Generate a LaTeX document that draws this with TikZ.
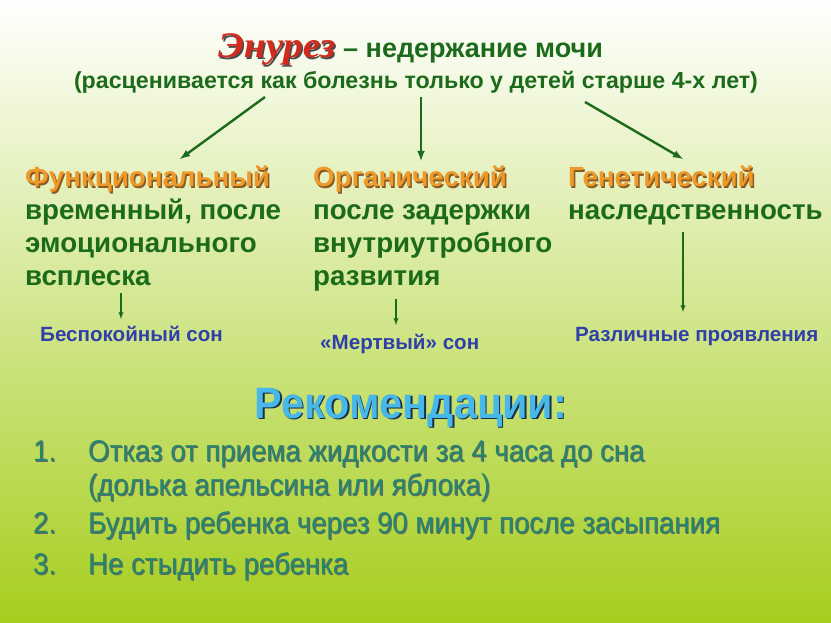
\documentclass[tikz,border=0pt]{standalone}
\usepackage{fontspec}
\setmainfont{Liberation Sans}
\newfontfamily\narrowfont[FakeStretch=0.92]{Liberation Sans}
\newfontfamily\recfont[FakeStretch=0.94]{Liberation Sans}
\newfontfamily\titlefont[FakeStretch=1.1]{Liberation Serif}
\usepackage{xcolor}
\usetikzlibrary{arrows, positioning, calc}

\definecolor{bgtop}{HTML}{FFFFFF}
\definecolor{bgmid}{HTML}{D8EB9C}
\definecolor{bgbot}{HTML}{A6CE1E}
\definecolor{dgreen}{HTML}{1B6B1B}
\definecolor{orng}{HTML}{EE9A2A}
\definecolor{orngsh}{HTML}{8A5A22}
\definecolor{dblue}{HTML}{3040A8}
\definecolor{lblue}{HTML}{48B8E8}
\definecolor{navysh}{HTML}{1A2E4A}
\definecolor{listgreen}{HTML}{24866A}
\definecolor{titlered}{HTML}{D42A1E}

\newcommand\shadowed[4][1.5pt]{\rlap{\kern#1\raisebox{-#1}{\color{#3}#4}}{\color{#2}#4}}

\tikzset{
    txt/.style={anchor=base west, inner sep=0pt, font=\bfseries\fontsize{27.7}{32}\selectfont, text=dgreen},
    head/.style={txt},
    son/.style={anchor=base west, inner sep=0pt, font=\bfseries\fontsize{20.6}{24}\selectfont, text=dblue},
    item/.style={anchor=base west, inner sep=0pt, font=\narrowfont\fontsize{30}{36}\selectfont},
    bigarrow/.style={-latex, line width=2.4pt, draw=dgreen},
    smallarrow/.style={-latex, line width=1.3pt, draw=dgreen}
}
\newcommand\li[1]{\shadowed[1pt]{listgreen}{black!60}{#1}}

\begin{document}
\begin{tikzpicture}[x=1pt, y=-1pt]
    \useasboundingbox (0, 0) rectangle (831, 623);
    \shade[top color=bgtop, middle color=bgmid, bottom color=bgbot] (0, 0) rectangle (831, 623);

    % title
    \node[anchor=base west, inner sep=0pt] (enur) at (218, 58) {\titlefont\bfseries\itshape\fontsize{36}{40}\selectfont\shadowed{titlered}{black!70}{Энурез}};
    \node[txt, font=\bfseries\fontsize{27}{30}\selectfont] (def) at (343, 58) {– недержание мочи};
    \node[anchor=base, inner sep=0pt, font=\bfseries\fontsize{23.2}{26}\selectfont, text=dgreen] (sub) at (416, 89) {(расценивается как болезнь только у детей старше 4-х лет)};

    % three kinds
    \node[head] (func) at (25, 187) {\shadowed{orng}{orngsh}{Функциональный}};
    \node[txt] (func1) at (25, 220) {временный, после};
    \node[txt] (func2) at (25, 252) {эмоционального};
    \node[txt] (func3) at (25, 285) {всплеска};

    \node[head] (org) at (313, 187) {\shadowed{orng}{orngsh}{Органический}};
    \node[txt] (org1) at (313, 220) {после задержки};
    \node[txt] (org2) at (313, 252) {внутриутробного};
    \node[txt] (org3) at (313, 285) {развития};

    \node[head] (gen) at (568, 187) {\shadowed{orng}{orngsh}{Генетический}};
    \node[txt] (gen1) at (568, 220) {наследственность};

    \node[son] (son1) at (40, 341) {Беспокойный сон};
    \node[son] (son2) at (320, 349) {«Мертвый» сон};
    \node[son] (son3) at (575, 341) {Различные проявления};

    % arrows
    \coordinate (a1) at (265, 97);
    \coordinate (a2) at (421, 97);
    \coordinate (a3) at (585, 102);
    \coordinate (b1) at (180, 159);
    \coordinate (b2) at (421, 161);
    \coordinate (b3) at (683, 159);
    \draw
    (a1) edge[bigarrow] (b1)
    (a2) edge[bigarrow] (b2)
    (a3) edge[bigarrow] (b3);
    \draw
    (121, 293) edge[smallarrow] (121, 319)
    (396, 299) edge[smallarrow] (396, 325)
    (683, 232) edge[smallarrow] (683, 312);

    % recommendations
    \node[anchor=base, inner sep=0pt, font=\recfont\bfseries\fontsize{44}{50}\selectfont] (rec) at (411, 418) {\shadowed{lblue}{navysh}{Рекомендации:}};
    \node[item] (n1) at (33, 461) {\li{1.}};
    \node[item] (i1) at (88, 461) {\li{Отказ от приема жидкости за 4 часа до сна}};
    \node[item] (i1b) at (88, 495) {\li{(долька апельсина или яблока)}};
    \node[item] (n2) at (33, 533) {\li{2.}};
    \node[item] (i2) at (88, 533) {\li{Будить ребенка через 90 минут после засыпания}};
    \node[item] (n3) at (33, 574) {\li{3.}};
    \node[item] (i3) at (88, 574) {\li{Не стыдить ребенка}};
\end{tikzpicture}
\end{document}
